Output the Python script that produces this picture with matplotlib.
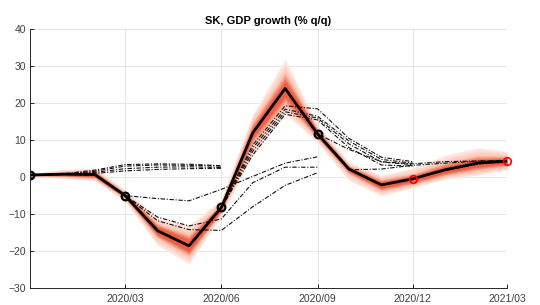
import matplotlib
matplotlib.use("Agg")
import matplotlib.pyplot as plt
import matplotlib.dates as mdates
import numpy as np
import pandas as pd

# monthly axis, 2019/12 .. 2021/03
months = pd.date_range("2019-12-01", periods=16, freq="MS")

# actual / nowcast path
gdp = [0.6, 0.8, 0.7, -5.0, -14.5, -18.6, -8.2, 12.0, 24.0, 11.7, 2.2, -2.1, -0.45, 2.0, 3.8, 4.3]
actual_idx = [0, 3, 6, 9]
forecast_idx = [12, 15]

# fan chart bands (outer / middle / inner)
outer_hi = [1.0, 2.0, 2.5, -3.5, -11.0, -13.0, -6.0, 17.0, 32.0, 14.0, 4.0, 0.5, 2.5, 6.0, 8.0, 7.0]
outer_lo = [0.2, -0.3, -1.0, -6.5, -18.5, -23.5, -10.5, 6.0, 17.0, 9.5, -1.0, -5.0, -3.0, -0.5, 0.5, 2.0]
mid_hi = [0.8, 1.5, 1.8, -4.2, -12.6, -15.5, -7.0, 15.0, 28.5, 13.0, 3.2, -0.5, 1.0, 4.0, 6.0, 5.8]
mid_lo = [0.4, 0.2, -0.3, -5.8, -16.5, -21.5, -9.5, 9.0, 19.5, 10.5, 0.8, -3.8, -2.0, 0.3, 1.8, 2.8]
inner_hi = [0.7, 1.1, 1.2, -4.6, -13.5, -17.0, -7.6, 13.2, 25.8, 12.3, 2.6, -1.4, 0.1, 2.8, 4.6, 4.9]
inner_lo = [0.5, 0.5, 0.2, -5.4, -15.5, -20.0, -8.8, 10.8, 22.0, 11.1, 1.7, -2.9, -1.1, 1.2, 2.9, 3.7]

# earlier forecast vintages: (start month index, values)
vintages = [
    (0, [0.6, 0.9, 1.9, 3.4, 3.6, 3.5, 3.1]),
    (0, [0.6, 0.8, 1.6, 3.0, 3.3, 3.2, 3.0]),
    (0, [0.6, 0.8, 1.3, 2.3, 2.7, 2.8, 2.6]),
    (0, [0.6, 0.7, 1.0, 1.7, 2.1, 2.3, 2.4]),
    (3, [-5.0, -5.8, -6.4, -3.3, 0.2, 3.8, 5.5]),
    (3, [-5.0, -10.8, -13.2, -11.3, -1.5, 2.7, 2.7]),
    (3, [-5.0, -11.8, -14.2, -14.4, -8.0, -2.2, 1.2]),
    (6, [-8.2, 8.7, 19.3, 18.5, 10.5, 5.4, 4.2]),
    (6, [-8.2, 7.9, 18.4, 16.5, 9.8, 4.8, 3.8]),
    (6, [-8.2, 7.0, 17.7, 16.0, 9.0, 4.1, 3.4]),
    (6, [-8.2, 6.0, 17.0, 15.5, 8.0, 3.3, 3.0]),
    (9, [11.7, 7.5, 4.2, 3.6, 4.2, 4.4, 4.5]),
    (9, [11.7, 2.0, 2.2, 3.2, 3.8, 4.3, 4.6]),
    (12, [-0.45, 1.8, 3.5, 4.4]),
]

plt.rcParams["font.family"] = ["Liberation Sans", "DejaVu Sans"]

fig = plt.figure(figsize=(5.4, 3.05), dpi=100)
ax = fig.add_axes([0.0556, 0.0557, 0.883, 0.848])

# fan: layered fills from outer to inner
bands = [(outer_lo, outer_hi, "#feece6"), (mid_lo, mid_hi, "#fbc6b5"), (inner_lo, inner_hi, "#ec5f45")]
for k in range(len(bands) - 1):
    lo0, hi0, c0 = bands[k]
    lo1, hi1, c1 = bands[k + 1]
    c0 = np.array(matplotlib.colors.to_rgb(c0))
    c1 = np.array(matplotlib.colors.to_rgb(c1))
    for t in np.linspace(0, 1, 10, endpoint=False):
        lo = (1 - t) * np.array(lo0) + t * np.array(lo1)
        hi = (1 - t) * np.array(hi0) + t * np.array(hi1)
        ax.fill_between(months, lo, hi, color=(1 - t) * c0 + t * c1, lw=0)
ax.fill_between(months, inner_lo, inner_hi, color=bands[-1][2], lw=0)

for start, vals in vintages:
    ax.plot(months[start:start + len(vals)], vals, color="#111111", lw=0.8,
            linestyle=(0, (4, 1.5, 1, 1.5)))

ax.plot(months, gdp, color="black", lw=2)
ax.plot(months[actual_idx], [gdp[i] for i in actual_idx], "o", mfc="none", mec="black",
        ms=5.5, mew=1.6)
ax.plot(months[forecast_idx], [gdp[i] for i in forecast_idx], "o", mfc="none", mec="red",
        ms=5.5, mew=1.2, clip_on=False)

ax.set_xlim(months[0], months[-1])
ax.set_ylim(-30, 40)
ax.set_yticks(range(-30, 41, 10))
ax.set_xticks(months[[3, 6, 9, 12, 15]])
ax.xaxis.set_major_formatter(mdates.DateFormatter("%Y/%m"))

ax.grid(True, color="#e6e6e6", lw=0.7)
ax.set_axisbelow(True)
for s in ["top", "right"]:
    ax.spines[s].set_visible(False)
for s in ["left", "bottom"]:
    ax.spines[s].set_color("#262626")
    ax.spines[s].set_linewidth(0.7)
ax.tick_params(direction="in", length=3, width=0.7, colors="#262626", labelsize=7.5,
               labelcolor="#404040")
ax.tick_params(axis="x", pad=4)
ax.tick_params(axis="y", pad=3)

ax.set_title("SK, GDP growth (% q/q)", fontsize=8, fontweight="bold", pad=4)

fig.savefig("out.png", dpi=100)
